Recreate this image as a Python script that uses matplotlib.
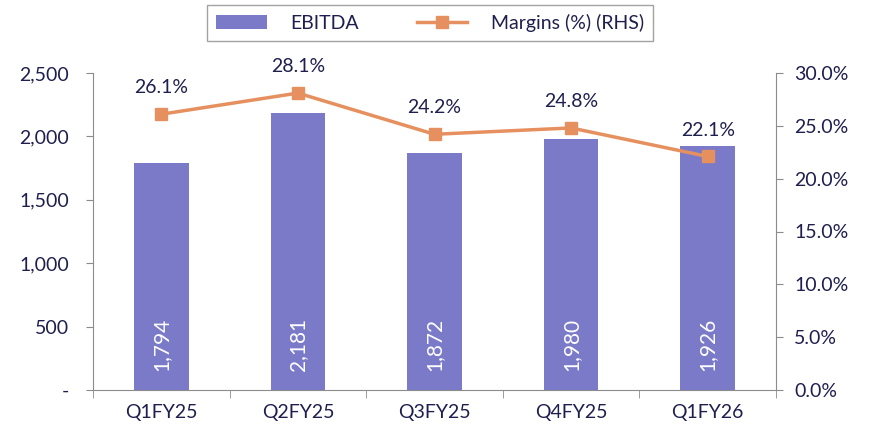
import numpy as np
import matplotlib.pyplot as plt
from matplotlib.ticker import FuncFormatter

plt.rcParams['font.family'] = ['Lato', 'DejaVu Sans']

quarters = ["Q1FY25", "Q2FY25", "Q3FY25", "Q4FY25", "Q1FY26"]
ebitda = [1794, 2181, 1872, 1980, 1926]
margins = [26.1, 28.1, 24.2, 24.8, 22.1]

text_col = "#1f1f4f"
bar_col = "#7a7ac9"
line_col = "#e6905f"
axis_col = "#8c8c8c"
fs = 14

fig = plt.figure(figsize=(8.72, 4.32), dpi=100)
ax = fig.add_axes([93 / 872, (432 - 390) / 432, (776 - 93) / 872, 317 / 432])
ax2 = ax.twinx()

x = np.arange(len(quarters))
ax.bar(x, ebitda, width=0.4, color=bar_col, label="EBITDA", zorder=2)
for xi, v in zip(x, ebitda):
    ax.text(xi, 150, f"{v:,}", rotation=90, ha="center", va="bottom",
            color="white", fontsize=15)

ax2.plot(x, margins, color=line_col, lw=2.5, marker="s", ms=9,
         label="Margins (%) (RHS)", zorder=3)
for xi, m in zip(x, margins):
    ax2.text(xi, m + 1.7, f"{m:.1f}%", ha="center", va="bottom",
             color=text_col, fontsize=fs)

ax.set_xlim(-0.5, len(quarters) - 0.5)
ax.set_ylim(0, 2500)
ax2.set_ylim(0, 30)
ax.set_yticks(np.arange(0, 2501, 500))
ax2.set_yticks(np.arange(0, 30.1, 5))
ax.yaxis.set_major_formatter(FuncFormatter(lambda v, p: "-" if v == 0 else f"{v:,.0f}"))
ax2.yaxis.set_major_formatter(FuncFormatter(lambda v, p: f"{v:.1f}%"))

ax.set_xticks(x)
ax.set_xticklabels(quarters)
ax.set_xticks(np.arange(-0.5, len(quarters), 1), minor=True)
ax.tick_params(axis="x", which="major", length=0, pad=10, labelsize=fs, labelcolor=text_col)
ax.tick_params(axis="x", which="minor", length=6, color=axis_col, direction="out")
ax.tick_params(axis="y", length=5, color=axis_col, labelsize=fs, labelcolor=text_col, pad=12)
ax2.tick_params(axis="y", length=5, color=axis_col, labelsize=fs, labelcolor=text_col, pad=8)

for a in (ax, ax2):
    a.spines["top"].set_visible(False)
    for s in ("left", "right", "bottom"):
        a.spines[s].set_color(axis_col)
ax.spines["right"].set_visible(False)
ax2.spines["left"].set_visible(False)
ax2.spines["bottom"].set_visible(False)

h1, l1 = ax.get_legend_handles_labels()
h2, l2 = ax2.get_legend_handles_labels()
leg = fig.legend(h1 + h2, l1 + l2, loc="center", bbox_to_anchor=(430 / 872, 1 - 23 / 432),
                 ncol=2, frameon=True, fancybox=False, edgecolor=axis_col,
                 fontsize=fs, handlelength=2.6, handletextpad=1.2, columnspacing=3.0,
                 borderpad=0.45)
leg._legend_box.sep = 0
for t in leg.get_texts():
    t.set_color(text_col)

fig.savefig("out.png", dpi=100)
